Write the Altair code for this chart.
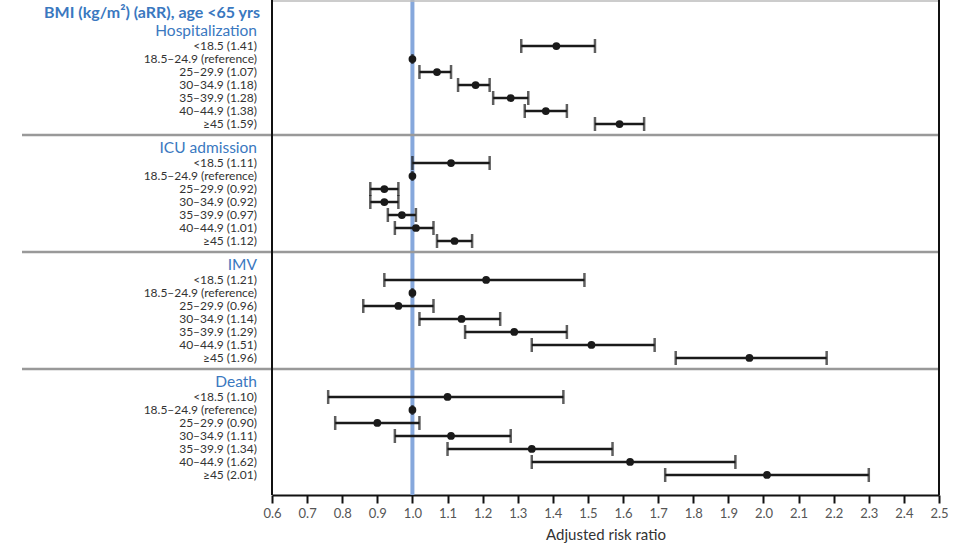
import altair as alt
import pandas as pd

# Adjusted risk ratios (with 95% CI) by BMI category, age <65 yrs
sections = ["Hospitalization", "ICU admission", "IMV", "Death"]
groups = ["<18.5", "18.5–24.9", "25–29.9", "30–34.9", "35–39.9", "40–44.9", "≥45"]
ref_group = "18.5–24.9"

hosp_est = [1.41, 1.00, 1.07, 1.18, 1.28, 1.38, 1.59]
hosp_lo = [1.31, 1.00, 1.02, 1.13, 1.23, 1.32, 1.52]
hosp_hi = [1.52, 1.00, 1.11, 1.22, 1.33, 1.44, 1.66]

icu_est = [1.11, 1.00, 0.92, 0.92, 0.97, 1.01, 1.12]
icu_lo = [1.00, 1.00, 0.88, 0.88, 0.93, 0.95, 1.07]
icu_hi = [1.22, 1.00, 0.96, 0.96, 1.01, 1.06, 1.17]

imv_est = [1.21, 1.00, 0.96, 1.14, 1.29, 1.51, 1.96]
imv_lo = [0.92, 1.00, 0.86, 1.02, 1.15, 1.34, 1.75]
imv_hi = [1.49, 1.00, 1.06, 1.25, 1.44, 1.69, 2.18]

death_est = [1.10, 1.00, 0.90, 1.11, 1.34, 1.62, 2.01]
death_lo = [0.76, 1.00, 0.78, 0.95, 1.10, 1.34, 1.72]
death_hi = [1.43, 1.00, 1.02, 1.28, 1.57, 1.92, 2.30]

x_ticks = [round(0.6 + 0.1 * i, 1) for i in range(20)]

series = [
    (hosp_est, hosp_lo, hosp_hi),
    (icu_est, icu_lo, icu_hi),
    (imv_est, imv_lo, imv_hi),
    (death_est, death_lo, death_hi),
]

# each section takes 9 row slots: header, 7 categories, gap
rows, headers, seps = [], [], []
for k, (name, (est, lo, hi)) in enumerate(zip(sections, series)):
    base = 9 * k
    headers.append({"slot": base - 0.15, "text": name})
    if k > 0:
        seps.append({"slot": base - 1.15})
    for j, g in enumerate(groups):
        is_ref = g == ref_group
        rows.append({
            "slot": base + 1 + j,
            "est": est[j],
            "lo": lo[j],
            "hi": hi[j],
            "ref": is_ref,
            "label": f"{g} (reference)" if is_ref else f"{g} ({est[j]:.2f})",
        })

df = pd.DataFrame(rows)
df_h = pd.DataFrame(headers)
df_s = pd.DataFrame(seps)

W, H = 667, 495
FONT = "Lato"
BLUE = "#3a78c0"
INK = "#1a1a1a"

y_scale = alt.Scale(domain=[-2.54, 35.54], reverse=True, nice=False, zero=False)
y_enc = alt.Y("slot:Q", scale=y_scale, axis=None)
x_scale = alt.Scale(domain=[0.6, 2.5], nice=False, zero=False)
x_axis = alt.Axis(values=x_ticks, format=".1f", title="Adjusted risk ratio",
                  grid=False, tickSize=8, tickWidth=2, tickColor="#111",
                  domainWidth=2, domainColor="#111", labelOverlap=False,
                  labelFlush=False, labelColor="#555", labelFontSize=13,
                  labelFont=FONT, labelPadding=4, titleFont=FONT,
                  titleFontSize=15, titleFontWeight="normal", titleColor="#333",
                  titlePadding=7)


def xq(field):
    # every layer shares the same scale and axis definition
    return alt.X(field, type="quantitative", scale=x_scale, axis=x_axis)


base = alt.Chart(df)

ref_line = alt.Chart(pd.DataFrame({"v": [1.0]})).mark_rule(
    color="#86a8dc", strokeWidth=4
).encode(x=xq("v"), y=alt.value(0), y2=alt.value(H))

ci = base.transform_filter("!datum.ref").mark_rule(color=INK, strokeWidth=2.5).encode(
    x=xq("lo"), x2="hi:Q", y=y_enc
)
cap_lo = base.transform_filter("!datum.ref").mark_tick(
    orient="vertical", color=INK, size=14, thickness=2.5
).encode(x=xq("lo"), y=y_enc)
cap_hi = base.transform_filter("!datum.ref").mark_tick(
    orient="vertical", color=INK, size=14, thickness=2.5
).encode(x=xq("hi"), y=y_enc)
ref_tick = base.transform_filter("datum.ref").mark_tick(
    orient="vertical", color=INK, size=10, thickness=2.5
).encode(x=xq("est"), y=y_enc)
points = base.mark_circle(color=INK, opacity=1, size=60).encode(
    x=xq("est"), y=y_enc
)

labels = base.mark_text(align="right", baseline="middle", font=FONT, fontSize=12,
                        color="#333").encode(x=alt.value(-15), y=y_enc, text="label:N")
head_text = alt.Chart(df_h).mark_text(align="right", baseline="middle", font=FONT,
                                      fontSize=15.5, color=BLUE).encode(
    x=alt.value(-15), y=y_enc, text="text:N")
title_text = alt.Chart(pd.DataFrame({"t": ["BMI (kg/m²) (aRR), age <65 yrs"]})).mark_text(
    align="right", baseline="middle", font=FONT, fontSize=16, fontWeight="bold", color=BLUE
).encode(x=alt.value(-12), y=alt.value(13), text="t:N")

separators = alt.Chart(df_s).mark_rule(color="#999", strokeWidth=2.5).encode(
    x=alt.value(-250), x2=alt.value(W), y=y_enc)

frame_top = alt.Chart(pd.DataFrame({"a": [0]})).mark_rule(color="#bbb", strokeWidth=1.5).encode(
    x=alt.value(0), x2=alt.value(W), y=alt.value(1))
frame_left = alt.Chart(pd.DataFrame({"a": [0]})).mark_rule(color="#111", strokeWidth=2).encode(
    x=alt.value(0), y=alt.value(0), y2=alt.value(H))
frame_right = alt.Chart(pd.DataFrame({"a": [0]})).mark_rule(color="#111", strokeWidth=2).encode(
    x=alt.value(W), y=alt.value(0), y2=alt.value(H))

chart = alt.layer(
    ref_line, separators, frame_top, frame_left, frame_right,
    ci, cap_lo, cap_hi, ref_tick, points, labels, head_text, title_text,
).properties(
    width=W, height=H,
    autosize=alt.AutoSizeParams(type="none"),
    padding={"left": 272, "top": 0, "right": 21, "bottom": 53},
    background="white",
).configure_view(stroke=None)

chart.save("out.html", embed_options={"renderer": "svg", "actions": False})
